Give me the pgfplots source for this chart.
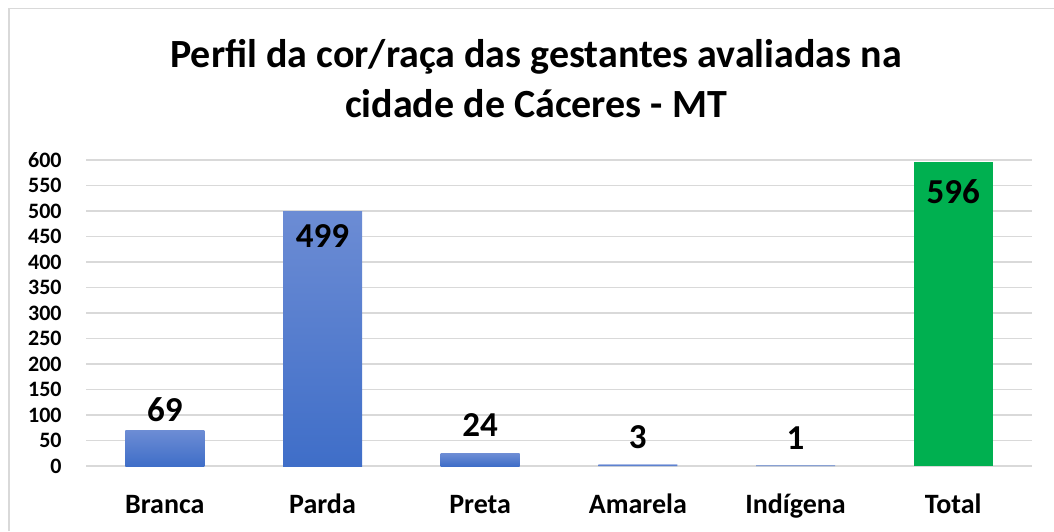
\documentclass[border=0pt]{standalone}
\usepackage{fontspec}
\setmainfont{Carlito}
\usepackage{pgfplots}
\pgfplotsset{compat=1.18}

\definecolor{gridC}{HTML}{D9D9D9}
\definecolor{barTop}{RGB}{108,140,212}
\definecolor{barBot}{RGB}{63,110,200}
\definecolor{totalC}{HTML}{00B050}

\begin{document}
\begin{tikzpicture}
\path[use as bounding box] (0,0) rectangle (527pt,265.5pt);
% chart frame (cropped at right and bottom)
\draw[gridC, line width=0.8pt] (4.5pt,0) -- (4.5pt,261.25pt) -- (527pt,261.25pt);

% title
\node[anchor=base, font=\fontsize{20}{24}\selectfont\bfseries] at (268pt,231.5pt)
  {Perfil da cor/raça das gestantes avaliadas na};
\node[anchor=base, font=\fontsize{20}{24}\selectfont\bfseries] at (268pt,206.5pt)
  {cidade de Cáceres - MT};

\begin{axis}[
    at={(43pt,32.5pt)}, anchor=south west,
    scale only axis, width=473pt, height=153pt,
    xmin=-0.5, xmax=5.5, ymin=0, ymax=600,
    xtick={0,1,2,3,4,5},
    xticklabels={Branca,Parda,Preta,Amarela,Indígena,Total},
    ytick={0,50,...,600},
    axis line style={draw=none},
    major tick length=0pt,
    ymajorgrids,
    major grid style={gridC, line width=0.75pt},
    /pgf/number format/assume math mode=true,
    yticklabel style={font=\fontsize{11}{13}\selectfont\bfseries, inner sep=0pt, xshift=-12pt},
    xticklabel style={font=\fontsize{14}{16}\selectfont\bfseries, anchor=base, yshift=-23.5pt},
    nodes near coords, point meta=explicit symbolic,
    every node near coord/.append style={font=\fontsize{17.5}{20}\selectfont\bfseries, anchor=base, inner sep=0pt},
]
\addplot[ybar, bar width=39.5pt, draw=none, top color=barTop, bottom color=barBot,
         every node near coord/.append style={yshift=4.5pt}]
  coordinates {(0,69)[69]};
\addplot[ybar, bar width=39.5pt, draw=none, top color=barTop, bottom color=barBot,
         every node near coord/.append style={yshift=-17.75pt}]
  coordinates {(1,499)[499]};
\addplot[ybar, bar width=39.5pt, draw=none, top color=barTop, bottom color=barBot,
         every node near coord/.append style={yshift=8.5pt}]
  coordinates {(2,24)[24]};
\addplot[ybar, bar width=39.5pt, draw=none, top color=barTop, bottom color=barBot,
         every node near coord/.append style={yshift=8pt}]
  coordinates {(3,3)[3] (4,1)[1]};
\addplot[ybar, bar width=39.5pt, draw=none, fill=totalC,
         every node near coord/.append style={yshift=-20.5pt}]
  coordinates {(5,596)[596]};
\end{axis}
\end{tikzpicture}
\end{document}
